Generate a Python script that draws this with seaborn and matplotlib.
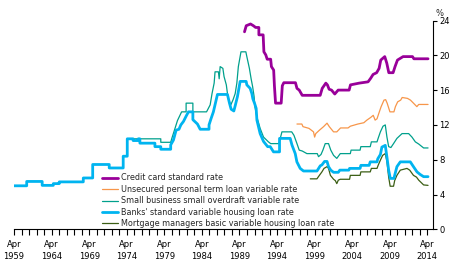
import matplotlib
matplotlib.use("Agg")
import matplotlib.pyplot as plt
import seaborn as sns
import pandas as pd

# decimal years (Apr = .25), rates in per cent
credit_x = [1989.92, 1990.15, 1990.72, 1991.1, 1991.4, 1991.83, 1991.83, 1992.4, 1992.5, 1992.75,
            1992.94, 1993.4, 1993.5, 1993.8, 1993.9, 1994.05, 1994.8, 1994.95, 1995.15, 1996.7,
            1996.9, 1997.2, 1997.6, 1999.99, 2000.26, 2000.74, 2000.95, 2001.18, 2001.5, 2001.93,
            2002.38, 2003.84, 2004.02, 2005.17, 2006.36, 2006.7, 2007.03, 2007.5, 2007.83, 2008.05,
            2008.58, 2008.85, 2009.12, 2009.69, 2009.95, 2010.27, 2011.02, 2012.27, 2012.46, 2014.34]
credit_y = [22.7, 23.4, 23.6, 23.4, 23.2, 23.2, 22.35, 22.35, 20.4, 20.05,
            19.55, 19.55, 18.7, 18.3, 16.5, 14.5, 14.5, 16.5, 16.85, 16.85,
            16.2, 16.0, 15.4, 15.4, 16.2, 16.8, 16.6, 16.1, 16.0, 15.55,
            16.0, 16.0, 16.6, 16.8, 16.95, 17.35, 17.8, 18.0, 18.5, 19.45,
            19.85, 19.1, 18.0, 18.0, 18.7, 19.45, 19.85, 19.85, 19.6, 19.6]

unsec_x = [1996.9, 1997.55, 1997.7, 1998.5, 1999.1, 1999.25, 1999.4, 1999.9, 2000.44, 2000.9,
           2001.2, 2001.77, 2002.2, 2002.7, 2003.7, 2004.0, 2005.0, 2005.8, 2006.2, 2006.7,
           2007.05, 2007.3, 2007.55, 2007.8, 2008.1, 2008.48, 2008.7, 2008.9, 2009.27, 2009.8,
           2010.0, 2010.3, 2010.7, 2010.9, 2011.6, 2012.0, 2012.4, 2012.85, 2013.1, 2014.34]
unsec_y = [12.1, 12.1, 11.8, 11.6, 11.2, 10.6, 11.0, 11.4, 11.8, 12.2,
           11.8, 11.2, 11.2, 11.65, 11.65, 11.85, 12.1, 12.25, 12.55, 12.85,
           13.1, 12.55, 12.7, 13.35, 14.1, 14.85, 14.9, 14.5, 13.5, 13.5,
           14.1, 14.65, 14.85, 15.15, 15.05, 14.85, 14.5, 14.1, 14.35, 14.35]

small_x = [1975.1, 1978.78, 1978.78, 1980.1, 1980.25, 1980.6, 1981.0, 1981.55, 1982.15, 1982.15,
           1983.05, 1983.05, 1984.87, 1985.35, 1985.6, 1985.88, 1986.0, 1986.45, 1986.55, 1986.68,
           1987.04, 1987.2, 1987.5, 1987.65, 1987.8, 1988.1, 1988.4, 1988.68, 1988.9, 1989.1,
           1989.45, 1990.1, 1990.23, 1990.57, 1990.8, 1991.0, 1991.2, 1991.3, 1991.57, 1992.0,
           1992.45, 1993.1, 1993.4, 1994.5, 1994.9, 1996.2, 1996.5, 1996.9, 1997.2, 1997.6,
           1998.22, 1999.6, 1999.77, 2000.1, 2000.35, 2000.66, 2001.1, 2001.4, 2001.77, 2002.2,
           2002.66, 2004.0, 2004.1, 2005.3, 2005.4, 2006.65, 2006.8, 2007.55, 2007.7, 2008.0,
           2008.35, 2008.65, 2008.87, 2009.1, 2009.4, 2009.75, 2010.2, 2010.88, 2011.76, 2012.2,
           2012.65, 2013.1, 2013.75, 2014.34]
small_y = [10.4, 10.4, 10.0, 10.0, 10.45, 11.4, 12.5, 13.5, 13.5, 14.5,
           14.5, 13.5, 13.5, 14.3, 15.6, 16.8, 18.1, 18.1, 17.3, 18.7,
           18.5, 17.55, 16.6, 15.6, 14.9, 14.3, 14.9, 15.6, 16.8, 18.7,
           20.4, 20.4, 19.85, 18.5, 17.3, 16.4, 15.25, 14.1, 12.9, 11.6,
           10.6, 10.05, 9.85, 9.85, 11.2, 11.2, 10.8, 9.85, 9.1, 9.0,
           8.7, 8.7, 8.35, 8.6, 9.1, 9.85, 9.85, 9.1, 8.5, 8.15,
           8.7, 8.7, 9.1, 9.1, 9.5, 9.5, 10.05, 10.05, 10.45, 11.2,
           11.85, 12.0, 10.6, 9.5, 9.4, 9.85, 10.45, 11.0, 11.0, 10.6,
           10.05, 9.8, 9.35, 9.35]

banks_x = [1959.25, 1960.94, 1960.94, 1963.0, 1963.0, 1964.48, 1964.48, 1965.27, 1965.27, 1968.47,
           1968.47, 1969.72, 1969.72, 1971.92, 1971.92, 1973.78, 1973.78, 1974.32, 1974.32, 1975.1,
           1975.1, 1975.78, 1975.78, 1976.0, 1976.0, 1978.0, 1978.0, 1978.78, 1978.78, 1980.1,
           1980.1, 1980.46, 1980.82, 1981.2, 1981.45, 1981.8, 1982.15, 1982.46, 1983.05, 1983.05,
           1983.66, 1984.02, 1985.2, 1985.2, 1985.48, 1985.78, 1986.32, 1987.65, 1987.92, 1988.14,
           1988.5, 1988.68, 1988.98, 1989.34, 1990.14, 1990.23, 1990.67, 1990.9, 1991.03, 1991.25,
           1991.47, 1991.57, 1992.0, 1992.45, 1993.0, 1993.34, 1993.78, 1994.58, 1994.58, 1996.0,
           1996.23, 1996.67, 1996.89, 1997.33, 1997.77, 1999.56, 2000.0, 2000.22, 2000.57, 2000.9,
           2001.1, 2001.4, 2001.77, 2002.4, 2002.6, 2003.8, 2003.9, 2005.3, 2005.4, 2006.5,
           2006.65, 2007.55, 2007.65, 2008.0, 2008.2, 2008.65, 2008.87, 2009.1, 2009.32, 2009.8,
           2009.9, 2010.2, 2010.65, 2011.98, 2012.4, 2012.87, 2013.3, 2013.75, 2014.34]
banks_y = [5.0, 5.0, 5.5, 5.5, 5.05, 5.05, 5.25, 5.25, 5.45, 5.45,
           5.9, 5.9, 7.45, 7.45, 7.05, 7.05, 8.4, 8.4, 10.4, 10.4,
           10.2, 10.2, 10.4, 10.4, 9.9, 9.9, 9.5, 9.5, 9.2, 9.2,
           9.7, 10.25, 11.4, 11.5, 12.0, 12.4, 13.0, 13.5, 13.5, 12.6,
           12.1, 11.5, 11.5, 12.0, 12.75, 13.5, 15.5, 15.5, 14.5, 13.8,
           13.6, 14.2, 15.25, 17.0, 17.0, 16.6, 16.2, 15.6, 15.0, 14.5,
           13.9, 12.55, 11.0, 10.1, 9.5, 9.5, 8.9, 8.9, 10.45, 10.45,
           9.7, 8.7, 7.75, 7.0, 6.7, 6.7, 7.3, 7.4, 7.8, 7.8,
           7.2, 6.8, 6.55, 6.55, 6.8, 6.8, 7.0, 7.0, 7.35, 7.35,
           7.75, 7.75, 8.1, 8.6, 9.45, 9.65, 8.3, 6.8, 5.85, 5.85,
           6.2, 7.2, 7.75, 7.75, 7.2, 6.6, 6.3, 6.05, 6.05]

mort_x = [1998.67, 1999.56, 1999.8, 2000.22, 2000.5, 2000.9, 2001.1, 2001.35, 2001.77, 2002.0,
          2002.2, 2002.4, 2002.66, 2003.9, 2004.0, 2005.3, 2005.4, 2006.65, 2006.8, 2007.55,
          2007.7, 2008.0, 2008.3, 2008.65, 2008.87, 2009.1, 2009.3, 2009.75, 2009.9, 2010.2,
          2010.65, 2011.54, 2011.9, 2012.4, 2012.8, 2013.1, 2013.75, 2014.34]
mort_y = [5.8, 5.8, 6.1, 6.6, 7.0, 7.2, 7.0, 6.2, 5.75, 5.6,
          5.25, 5.65, 5.75, 5.75, 6.2, 6.2, 6.6, 6.6, 7.0, 7.0,
          7.35, 7.95, 8.5, 8.7, 7.8, 6.0, 4.95, 4.95, 5.6, 6.2,
          6.8, 7.0, 6.8, 6.2, 6.0, 5.65, 5.1, 5.05]

labels = ["Credit card standard rate",
          "Unsecured personal term loan variable rate",
          "Small business small overdraft variable rate",
          "Banks' standard variable housing loan rate",
          "Mortgage managers basic variable housing loan rate"]
colors = ["#990099", "#F7964A", "#00A08C", "#00B4F0", "#3B5E14"]
widths = [2.0, 0.9, 0.9, 2.0, 0.9]

tick_years = list(range(1959, 2015))
label_years = list(range(1959, 2015, 5))
y_ticks = [0, 4, 8, 12, 16, 20, 24]

sns.set_theme(style="ticks")
plt.rcParams["font.family"] = ["DejaVu Sans"]
plt.rcParams["font.size"] = 6

fig = plt.figure(figsize=(4.54, 2.65), dpi=100)
ax = fig.add_axes([14 / 454, 1 - 229.3 / 265, (433 - 14) / 454, (229.3 - 20.5) / 265])

series = [(credit_x, credit_y), (unsec_x, unsec_y), (small_x, small_y),
          (banks_x, banks_y), (mort_x, mort_y)]
draw_order = [4, 2, 3, 1, 0]
handles = {}
for i in draw_order:
    xs, ys = series[i]
    df = pd.DataFrame({"year": xs, "rate": ys})
    sns.lineplot(data=df, x="year", y="rate", ax=ax, color=colors[i], linewidth=widths[i],
                 estimator=None, sort=False, label=labels[i])
    handles[i] = ax.lines[-1]

ax.set_xlim(1959.25, 2015.0)
ax.set_ylim(0, 24)
ax.set_xlabel("")
ax.set_ylabel("")

ax.set_xticks([y + 0.25 for y in tick_years])
ax.set_xticklabels([f"Apr\n{y}" if y in label_years else "" for y in tick_years],
                   fontsize=6, linespacing=1.45)
ax.yaxis.tick_right()
ax.set_yticks(y_ticks)
ax.set_yticklabels([str(v) for v in y_ticks], fontsize=6)
ax.tick_params(axis="x", bottom=True, direction="out", length=4, width=0.8, pad=3.5,
               colors="black")
ax.tick_params(axis="y", right=True, left=False, direction="out", length=3, width=0.8, pad=1.5,
               colors="black")

for side in ["left", "top"]:
    ax.spines[side].set_visible(False)
for side in ["right", "bottom"]:
    ax.spines[side].set_visible(True)
    ax.spines[side].set_color("black")
    ax.spines[side].set_linewidth(0.8)

fig.text(440 / 454, 1 - 14 / 265, "%", ha="center", va="center", fontsize=6)

ax.legend(handles=[handles[i] for i in range(5)], labels=labels,
          loc="upper left", bbox_to_anchor=(101.7 / 454, 1 - 173.5 / 265),
          bbox_transform=fig.transFigure, frameon=False, borderpad=0, borderaxespad=0,
          handlelength=2.0, handletextpad=0.45, labelspacing=0.3, fontsize=5.8)

fig.savefig("out.png", dpi=100)
